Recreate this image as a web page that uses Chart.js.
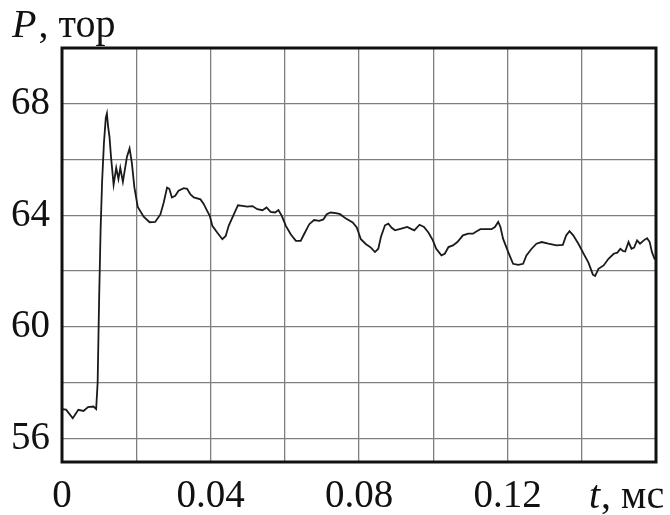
<!DOCTYPE html>
<html>
<head>
<meta charset="utf-8">
<script src="https://cdn.jsdelivr.net/npm/chart.js@4.4.1/dist/chart.umd.min.js"></script>
<style>
  html, body { margin: 0; padding: 0; background: #fff; }
  #wrap { width: 670px; height: 515px; }
</style>
</head>
<body>
<div id="wrap"><canvas id="pressureChart" width="670" height="515"></canvas></div>
<script>
// time, ms
const timeMs = [
  0.0000, 0.0011, 0.0029, 0.0044, 0.0058, 0.0070, 0.0085, 0.0092, 0.0096, 0.0100,
  0.0104, 0.0108, 0.0113, 0.0118, 0.0121, 0.0124, 0.0128, 0.0132, 0.0139, 0.0146,
  0.0152, 0.0157, 0.0164, 0.0175, 0.0182, 0.0188, 0.0195, 0.0204, 0.0220, 0.0236,
  0.0251, 0.0265, 0.0274, 0.0283, 0.0289, 0.0296, 0.0305, 0.0314, 0.0328, 0.0337,
  0.0346, 0.0355, 0.0373, 0.0382, 0.0391, 0.0398, 0.0405, 0.0418, 0.0432, 0.0441,
  0.0449, 0.0461, 0.0474, 0.0486, 0.0499, 0.0513, 0.0526, 0.0540, 0.0551, 0.0562,
  0.0574, 0.0583, 0.0592, 0.0603, 0.0616, 0.0630, 0.0643, 0.0652, 0.0666, 0.0679,
  0.0693, 0.0704, 0.0713, 0.0724, 0.0738, 0.0749, 0.0765, 0.0783, 0.0794, 0.0805,
  0.0819, 0.0832, 0.0843, 0.0852, 0.0859, 0.0870, 0.0879, 0.0888, 0.0897, 0.0914,
  0.0930, 0.0939, 0.0949, 0.0963, 0.0975, 0.0987, 0.0999, 0.1008, 0.1022, 0.1031,
  0.1041, 0.1053, 0.1065, 0.1080, 0.1094, 0.1107, 0.1116, 0.1127, 0.1139, 0.1157,
  0.1166, 0.1175, 0.1181, 0.1188, 0.1202, 0.1215, 0.1229, 0.1242, 0.1251, 0.1265,
  0.1278, 0.1292, 0.1310, 0.1332, 0.1349, 0.1358, 0.1367, 0.1377, 0.1391, 0.1406,
  0.1418, 0.1430, 0.1436, 0.1445, 0.1459, 0.1472, 0.1486, 0.1496, 0.1504, 0.1511,
  0.1517, 0.1526, 0.1534, 0.1541, 0.1549, 0.1557, 0.1567, 0.1576, 0.1583, 0.1589,
  0.1596, 0.1600
];
// pressure, torr
const pressureTorr = [
  57.05, 57.03, 56.72, 57.02, 56.98, 57.12, 57.14, 57.05, 58.00, 61.00,
  63.50, 65.20, 66.60, 67.50, 67.65, 67.20, 66.80, 66.10, 65.10, 65.70,
  65.30, 65.70, 65.20, 66.10, 66.40, 65.90, 65.00, 64.30, 63.95, 63.75,
  63.76, 64.03, 64.46, 64.99, 64.95, 64.64, 64.70, 64.88, 64.97, 64.95,
  64.75, 64.64, 64.57, 64.40, 64.16, 63.98, 63.62, 63.38, 63.14, 63.26,
  63.62, 63.98, 64.36, 64.34, 64.31, 64.33, 64.22, 64.18, 64.28, 64.12,
  64.10, 64.19, 63.98, 63.62, 63.32, 63.08, 63.08, 63.32, 63.68, 63.83,
  63.80, 63.85, 64.04, 64.10, 64.08, 64.04, 63.88, 63.74, 63.56, 63.14,
  62.96, 62.84, 62.68, 62.80, 63.22, 63.64, 63.70, 63.55, 63.46, 63.52,
  63.58, 63.52, 63.46, 63.66, 63.58, 63.38, 63.10, 62.80, 62.56, 62.62,
  62.86, 62.92, 63.04, 63.28, 63.34, 63.34, 63.42, 63.50, 63.50, 63.50,
  63.58, 63.76, 63.58, 63.16, 62.68, 62.26, 62.22, 62.26, 62.56, 62.80,
  62.98, 63.04, 62.98, 62.92, 62.94, 63.28, 63.43, 63.28, 62.98, 62.60,
  62.30, 61.87, 61.82, 62.08, 62.20, 62.44, 62.62, 62.66, 62.80, 62.72,
  62.70, 63.04, 62.80, 62.84, 63.10, 62.98, 63.10, 63.18, 63.04, 62.68,
  62.44, 62.42
];

const xGridTicks = [0, 0.02, 0.04, 0.06, 0.08, 0.10, 0.12, 0.14, 0.16];
const xTickLabels = [0, 0.04, 0.08, 0.12];
const yGridTicks = [56, 58, 60, 62, 64, 66, 68, 70];
const yTickLabels = [56, 60, 64, 68];

const serif = '"Liberation Serif", "DejaVu Serif", serif';

// frame + axis names drawn on top
const framePlugin = {
  id: 'frame',
  afterDraw(chart) {
    const { ctx, chartArea: a } = chart;
    ctx.save();
    ctx.strokeStyle = '#111';
    ctx.lineWidth = 3;
    ctx.strokeRect(a.left, a.top, a.right - a.left, a.bottom - a.top);

    ctx.fillStyle = '#111';
    ctx.textBaseline = 'alphabetic';
    ctx.textAlign = 'left';
    // y axis name
    ctx.font = 'italic 40px ' + serif;
    ctx.fillText('P', 12, 37);
    let w = ctx.measureText('P').width;
    ctx.font = '40px ' + serif;
    ctx.fillText(', тор', 14 + w, 37);
    // x axis name
    ctx.font = 'italic 40px ' + serif;
    ctx.fillText('t', 589, 508);
    w = ctx.measureText('t').width;
    ctx.font = '40px ' + serif;
    ctx.fillText(', мс', 590 + w, 508);
    ctx.restore();
  }
};

new Chart(document.getElementById('pressureChart'), {
  type: 'scatter',
  data: {
    datasets: [{
      data: timeMs.map((t, i) => ({ x: t, y: pressureTorr[i] })),
      showLine: true,
      borderColor: '#1a1a1a',
      borderWidth: 1.8,
      pointRadius: 0,
      tension: 0
    }]
  },
  options: {
    responsive: false,
    animation: false,
    layout: { padding: { top: 48, right: 14, left: 0, bottom: 0 } },
    plugins: { legend: { display: false }, tooltip: { enabled: false } },
    scales: {
      x: {
        type: 'linear',
        min: 0,
        max: 0.16,
        afterBuildTicks: (s) => { s.ticks = xGridTicks.map(v => ({ value: v })); },
        afterFit: (s) => { s.height = 53; },
        border: { display: false },
        grid: { color: '#7f7f7f', lineWidth: 1.3, drawTicks: false },
        ticks: {
          autoSkip: false,
          maxRotation: 0,
          padding: 11,
          color: '#111',
          font: { family: serif, size: 39 },
          callback: (v) => xTickLabels.includes(v) ? String(v) : ''
        }
      },
      y: {
        min: 55.15,
        max: 70,
        afterBuildTicks: (s) => { s.ticks = yGridTicks.map(v => ({ value: v })); },
        afterFit: (s) => { s.width = 62; },
        border: { display: false },
        grid: { color: '#7f7f7f', lineWidth: 1.3, drawTicks: false },
        ticks: {
          autoSkip: false,
          padding: 12,
          color: '#111',
          font: { family: serif, size: 39 },
          callback: (v) => yTickLabels.includes(v) ? String(v) : ''
        }
      }
    }
  },
  plugins: [framePlugin]
});
</script>
</body>
</html>
